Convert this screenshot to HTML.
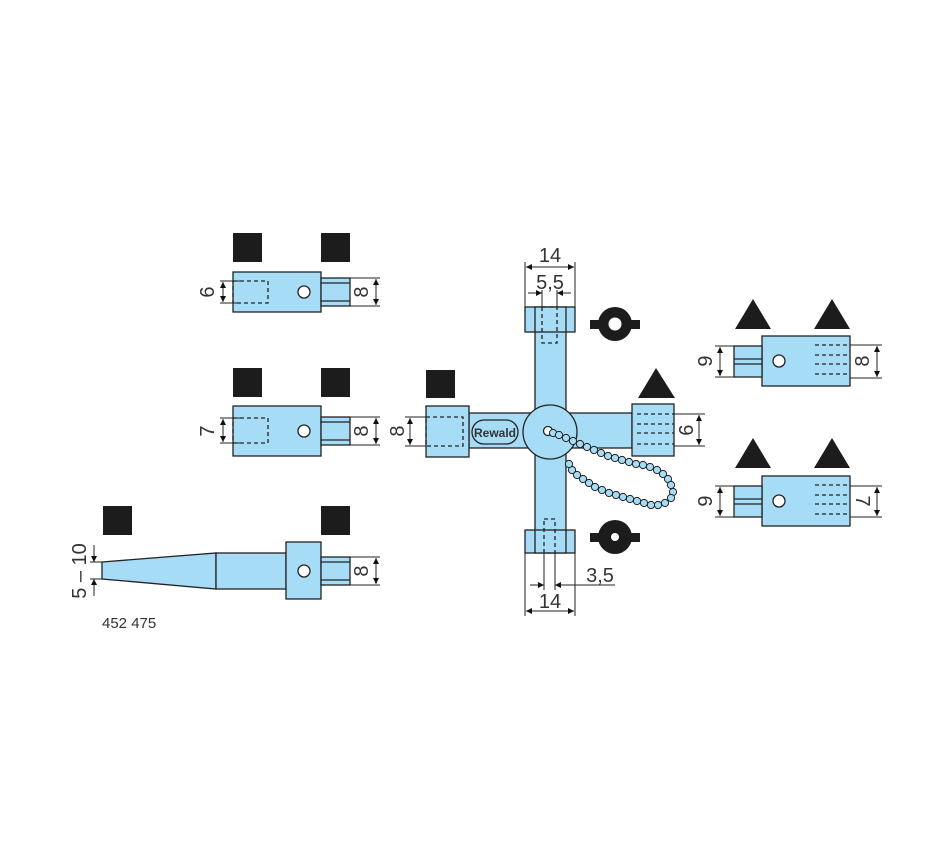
<!DOCTYPE html>
<html><head><meta charset="utf-8"><style>
html,body{margin:0;padding:0;background:#fff;}
svg{display:block;}
text{font-family:"Liberation Sans",sans-serif;fill:#333;}
</style></head><body>
<svg id="s" width="950" height="860" viewBox="0 0 950 860" xmlns="http://www.w3.org/2000/svg">
<defs>
<marker id="a" viewBox="0 0 10 10" refX="10" refY="5" markerWidth="6" markerHeight="8" orient="auto-start-reverse" markerUnits="userSpaceOnUse"><path d="M0,0L10,5L0,10z" fill="#111"/></marker>
</defs>
<g stroke="#222" stroke-width="1.3" fill="#a6dcf5">
<rect x="233" y="233" width="29" height="29" fill="#1c1c1c" stroke="none"/>
<rect x="321" y="233" width="29" height="29" fill="#1c1c1c" stroke="none"/>
<rect x="233" y="272" width="88" height="40"/>
<rect x="321" y="278" width="29" height="28"/>
<line x1="321" y1="283" x2="350" y2="283"/><line x1="321" y1="301" x2="350" y2="301"/>
<rect x="233" y="281" width="35" height="22" fill="none" stroke-dasharray="4,3"/>
<circle cx="304" cy="292" r="6" fill="#fff"/>
<rect x="233" y="368" width="29" height="29" fill="#1c1c1c" stroke="none"/>
<rect x="321" y="368" width="29" height="29" fill="#1c1c1c" stroke="none"/>
<rect x="233" y="406" width="88" height="50"/>
<rect x="321" y="417" width="29" height="28"/>
<line x1="321" y1="422" x2="350" y2="422"/><line x1="321" y1="440" x2="350" y2="440"/>
<rect x="233" y="418" width="35" height="25" fill="none" stroke-dasharray="4,3"/>
<circle cx="304" cy="431" r="6" fill="#fff"/>
<rect x="103" y="506" width="29" height="29" fill="#1c1c1c" stroke="none"/>
<rect x="321" y="506" width="29" height="29" fill="#1c1c1c" stroke="none"/>
<polygon points="102,562 216,553 216,589 102,579"/>
<rect x="216" y="553" width="70" height="36"/>
<rect x="286" y="542" width="35" height="57"/>
<rect x="321" y="557" width="29" height="28"/>
<line x1="321" y1="562" x2="350" y2="562"/><line x1="321" y1="580" x2="350" y2="580"/>
<circle cx="304" cy="571" r="6" fill="#fff"/>
<rect x="535" y="307" width="31" height="246"/>
<rect x="525" y="307" width="50" height="25"/>
<line x1="535" y1="307" x2="535" y2="332"/><line x1="566" y1="307" x2="566" y2="332"/>
<rect x="525" y="530" width="50" height="23"/>
<line x1="535" y1="530" x2="535" y2="553"/><line x1="566" y1="530" x2="566" y2="553"/>
<rect x="542" y="307" width="15" height="36" fill="none" stroke-dasharray="4,3"/>
<rect x="544" y="519" width="11" height="34" fill="none" stroke-dasharray="4,3"/>
<rect x="469" y="413" width="163" height="35"/>
<rect x="426" y="406" width="43" height="51"/>
<rect x="426" y="417" width="37" height="29" fill="none" stroke-dasharray="4,3"/>
<rect x="632" y="404" width="42" height="52"/>
<rect x="472" y="420" width="46" height="24" rx="12"/>
<circle cx="550" cy="432" r="27"/>
<circle cx="548" cy="431" r="4.5" fill="#fff"/>
<rect x="426" y="370" width="29" height="28" fill="#1c1c1c" stroke="none"/>
<polygon points="638,398 656,368 675,398" fill="#1c1c1c" stroke="none"/>
<polygon points="735,329 753,299 771,329" fill="#1c1c1c" stroke="none"/>
<polygon points="814,329 832,299 850,329" fill="#1c1c1c" stroke="none"/>
<rect x="762" y="336" width="88" height="50"/>
<rect x="734" y="346" width="28" height="31"/>
<line x1="734" y1="359" x2="762" y2="359"/><line x1="734" y1="364" x2="762" y2="364"/>
<circle cx="779" cy="361" r="6" fill="#fff"/>
<polygon points="735,468 753,438 771,468" fill="#1c1c1c" stroke="none"/>
<polygon points="814,468 832,438 850,468" fill="#1c1c1c" stroke="none"/>
<rect x="762" y="476" width="88" height="50"/>
<rect x="734" y="486" width="28" height="31"/>
<line x1="734" y1="499" x2="762" y2="499"/><line x1="734" y1="504" x2="762" y2="504"/>
<circle cx="779" cy="501" r="6" fill="#fff"/>
</g>
<g stroke="#222" stroke-width="1.3" stroke-dasharray="4,3" fill="none">
<line x1="815" y1="345" x2="850" y2="345"/><line x1="815" y1="355" x2="850" y2="355"/><line x1="815" y1="364" x2="850" y2="364"/><line x1="815" y1="374" x2="850" y2="374"/>
<line x1="815" y1="485" x2="850" y2="485"/><line x1="815" y1="495" x2="850" y2="495"/><line x1="815" y1="504" x2="850" y2="504"/><line x1="815" y1="514" x2="850" y2="514"/>
<line x1="637" y1="414" x2="674" y2="414"/><line x1="637" y1="424" x2="674" y2="424"/><line x1="637" y1="433" x2="674" y2="433"/><line x1="637" y1="444" x2="674" y2="444"/>
</g>
<g fill="#1c1c1c">
<rect x="590" y="320" width="50" height="9"/><circle cx="615" cy="324" r="17"/>
<rect x="590" y="533" width="50" height="9"/><circle cx="615" cy="537" r="17"/>
</g>
<circle cx="615" cy="324" r="6.5" fill="#fff"/>
<circle cx="615" cy="537" r="4" fill="#fff"/>
<text x="495" y="437" font-size="12" font-weight="bold" text-anchor="middle" fill="#234">Rewald</text>
<g stroke="#222" stroke-width="1" fill="none">
<line x1="350" y1="278" x2="380" y2="278"/><line x1="350" y1="306" x2="380" y2="306"/>
<line x1="376" y1="279" x2="376" y2="305" marker-start="url(#a)" marker-end="url(#a)"/>
<line x1="220" y1="281" x2="240" y2="281"/><line x1="220" y1="303" x2="240" y2="303"/>
<line x1="223" y1="282" x2="223" y2="302" marker-start="url(#a)" marker-end="url(#a)"/>
<line x1="350" y1="417" x2="380" y2="417"/><line x1="350" y1="445" x2="380" y2="445"/>
<line x1="376" y1="418" x2="376" y2="444" marker-start="url(#a)" marker-end="url(#a)"/>
<line x1="220" y1="418" x2="240" y2="418"/><line x1="220" y1="443" x2="240" y2="443"/>
<line x1="223" y1="419" x2="223" y2="442" marker-start="url(#a)" marker-end="url(#a)"/>
<line x1="350" y1="557" x2="380" y2="557"/><line x1="350" y1="585" x2="380" y2="585"/>
<line x1="376" y1="558" x2="376" y2="584" marker-start="url(#a)" marker-end="url(#a)"/>
<line x1="90" y1="562" x2="102" y2="562"/><line x1="90" y1="579" x2="102" y2="579"/>
<line x1="94" y1="545" x2="94" y2="562" marker-end="url(#a)"/>
<line x1="94" y1="596" x2="94" y2="579" marker-end="url(#a)"/>
<line x1="405" y1="417" x2="426" y2="417"/><line x1="405" y1="446" x2="426" y2="446"/>
<line x1="410" y1="418" x2="410" y2="445" marker-start="url(#a)" marker-end="url(#a)"/>
<line x1="674" y1="414" x2="705" y2="414"/><line x1="674" y1="446" x2="705" y2="446"/>
<line x1="699" y1="415" x2="699" y2="445" marker-start="url(#a)" marker-end="url(#a)"/>
<line x1="525" y1="262" x2="525" y2="307"/><line x1="575" y1="262" x2="575" y2="307"/>
<line x1="526" y1="267" x2="574" y2="267" marker-start="url(#a)" marker-end="url(#a)"/>
<line x1="542" y1="290" x2="542" y2="307"/><line x1="557" y1="290" x2="557" y2="307"/>
<line x1="528" y1="293" x2="542" y2="293" marker-end="url(#a)"/>
<line x1="571" y1="293" x2="557" y2="293" marker-end="url(#a)"/>
<line x1="525" y1="553" x2="525" y2="616"/><line x1="575" y1="553" x2="575" y2="616"/>
<line x1="526" y1="611" x2="574" y2="611" marker-start="url(#a)" marker-end="url(#a)"/>
<line x1="544" y1="553" x2="544" y2="590"/><line x1="555" y1="553" x2="555" y2="590"/>
<line x1="530" y1="585" x2="544" y2="585" marker-end="url(#a)"/>
<line x1="615" y1="585" x2="555" y2="585" marker-end="url(#a)"/>
<line x1="715" y1="346" x2="734" y2="346"/><line x1="715" y1="377" x2="734" y2="377"/>
<line x1="720" y1="347" x2="720" y2="376" marker-start="url(#a)" marker-end="url(#a)"/>
<line x1="850" y1="345" x2="882" y2="345"/><line x1="850" y1="378" x2="882" y2="378"/>
<line x1="877" y1="346" x2="877" y2="377" marker-start="url(#a)" marker-end="url(#a)"/>
<line x1="715" y1="486" x2="734" y2="486"/><line x1="715" y1="517" x2="734" y2="517"/>
<line x1="720" y1="487" x2="720" y2="516" marker-start="url(#a)" marker-end="url(#a)"/>
<line x1="850" y1="486" x2="882" y2="486"/><line x1="850" y1="517" x2="882" y2="517"/>
<line x1="877" y1="487" x2="877" y2="516" marker-start="url(#a)" marker-end="url(#a)"/>
</g>
<g font-size="20">
<text transform="translate(214,292) rotate(-90)" text-anchor="middle">6</text>
<text transform="translate(214,431) rotate(-90)" text-anchor="middle">7</text>
<text transform="translate(368,292) rotate(-90)" text-anchor="middle">8</text>
<text transform="translate(368,431) rotate(-90)" text-anchor="middle">8</text>
<text transform="translate(368,571) rotate(-90)" text-anchor="middle">8</text>
<text transform="translate(86,571) rotate(-90)" text-anchor="middle">5 – 10</text>
<text transform="translate(404,431) rotate(-90)" text-anchor="middle">8</text>
<text transform="translate(679,430) rotate(90)" text-anchor="middle">9</text>
<text transform="translate(712,361) rotate(-90)" text-anchor="middle">9</text>
<text transform="translate(712,501) rotate(-90)" text-anchor="middle">9</text>
<text transform="translate(869,361) rotate(-90)" text-anchor="middle">8</text>
<text transform="translate(856,501) rotate(90)" text-anchor="middle">7</text>
<text x="550" y="262" text-anchor="middle">14</text>
<text x="550" y="289" text-anchor="middle">5,5</text>
<text x="600" y="582" text-anchor="middle">3,5</text>
<text x="550" y="608" text-anchor="middle">14</text>
</g>
<text x="102" y="628" font-size="15">452 475</text>
<g fill="#a6dcf5" stroke="#222" stroke-width="1">
<circle cx="553" cy="433" r="3.6"/><circle cx="559" cy="435" r="3.6"/><circle cx="566" cy="438" r="3.6"/><circle cx="573" cy="441" r="3.6"/><circle cx="580" cy="444" r="3.6"/><circle cx="587" cy="447" r="3.6"/><circle cx="594" cy="450" r="3.6"/><circle cx="601" cy="453" r="3.6"/><circle cx="608" cy="456" r="3.6"/><circle cx="615" cy="458" r="3.6"/><circle cx="622" cy="460" r="3.6"/><circle cx="629" cy="462" r="3.6"/><circle cx="636" cy="464" r="3.6"/><circle cx="643" cy="465" r="3.6"/><circle cx="650" cy="467" r="3.6"/><circle cx="657" cy="470" r="3.6"/><circle cx="663" cy="474" r="3.6"/><circle cx="668" cy="479" r="3.6"/><circle cx="671" cy="485" r="3.6"/><circle cx="673" cy="492" r="3.6"/><circle cx="671" cy="498" r="3.6"/><circle cx="665" cy="503" r="3.6"/><circle cx="658" cy="505" r="3.6"/><circle cx="651" cy="505" r="3.6"/><circle cx="644" cy="503" r="3.6"/><circle cx="637" cy="501" r="3.6"/><circle cx="630" cy="499" r="3.6"/><circle cx="623" cy="497" r="3.6"/><circle cx="616" cy="495" r="3.6"/><circle cx="609" cy="493" r="3.6"/><circle cx="602" cy="490" r="3.6"/><circle cx="595" cy="487" r="3.6"/><circle cx="589" cy="483" r="3.6"/><circle cx="583" cy="479" r="3.6"/><circle cx="577" cy="475" r="3.6"/><circle cx="572" cy="470" r="3.6"/><circle cx="569" cy="464" r="3.6"/>
</g>
</svg>
</body></html>
